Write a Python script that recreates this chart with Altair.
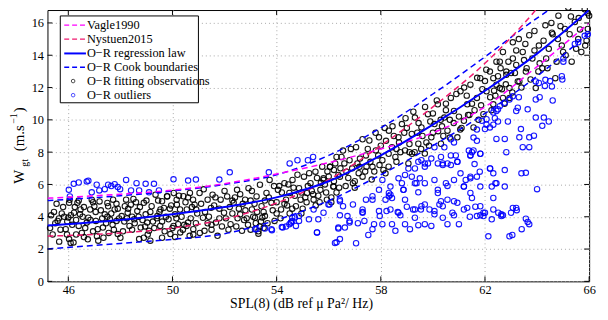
import altair as alt
import pandas as pd

# ---------------- data ----------------
X_TICKS = [46, 50, 54, 58, 62, 66]
Y_TICKS = [0, 2, 4, 6, 8, 10, 12, 14, 16]

# curves (SPL, wind speed)
REG_X = [45.2, 48, 50, 52, 54, 56, 58, 60, 62, 64, 66]
REG_Y = [3.46, 3.8, 4.15, 4.6, 5.2, 6.2, 7.8, 9.7, 11.8, 14.1, 16.8]
COOK_UP_X = [45.2, 48, 50, 52, 54, 56, 58, 60, 62, 64, 65.2]
COOK_UP_Y = [5.0, 5.3, 5.6, 6.0, 6.6, 7.8, 9.5, 11.6, 13.9, 16.3, 17.6]
COOK_LO_X = [45.2, 48, 50, 52, 54, 56, 58, 60, 62, 64, 66]
COOK_LO_Y = [2.0, 2.35, 2.6, 2.95, 3.8, 5.0, 6.6, 8.4, 10.4, 12.7, 15.4]
VAGLE_X = [45.2, 48, 50, 52, 54, 56, 58, 60, 62, 64, 66]
VAGLE_Y = [5.15, 5.4, 5.65, 6.05, 6.65, 7.35, 8.2, 9.2, 10.8, 13.3, 16.0]
NYST_X = [45.2, 48, 50, 52, 54, 56, 58, 60, 62, 63, 64, 64.5]
NYST_Y = [2.8, 3.0, 3.3, 3.85, 4.85, 6.3, 8.4, 10.8, 13.5, 15.1, 16.9, 17.9]

# fitting observations (SPL, W)
FIT_A = [(45.34,4.09),(45.59,3.74),(45.64,3.9),(45.84,4.0),(45.65,2.46),(46.03,2.62),(46.09,2.38),(46.2,2.4),
         (45.9,3.23),(45.96,3.7),(46.1,4.1),(46.22,4.25),(46.03,4.86),(46.35,4.86),(46.47,4.45),(46.4,3.43),
         (46.52,3.0),(46.6,2.74),(46.71,3.64),(46.77,3.94),(46.84,4.45),(46.9,5.06),(47.0,4.65),(47.06,3.74),
         (47.13,3.23),(47.15,2.52),(47.33,3.33),(47.4,4.15),(47.53,4.65),(47.6,3.84),(47.72,5.06),(47.78,4.45),
         (47.85,3.74),(47.9,2.93),(48.05,4.04),(48.17,4.65),(48.22,5.06),(48.28,4.25),(48.35,3.43),(48.4,4.75),
         (48.53,3.84),(48.65,4.35),(48.72,2.62),(48.78,3.33),(48.9,4.86),(48.97,4.15),(49.03,3.64),(49.1,3.13),
         (49.15,2.52),(49.2,4.65),(49.35,5.37),(49.42,4.04),(49.53,3.43),(49.6,4.96),(49.67,4.55),(49.8,5.27),
         (49.85,3.84),(49.92,2.93),(50.05,5.47),(50.1,4.15),(50.17,4.75),(50.22,3.54),(50.3,3.03),(50.42,5.27),
         (50.55,4.45),(50.6,3.64),(50.67,5.47),(50.8,3.23),(50.85,4.75),(45.45,4.3),(45.8,4.6),(46.15,3.5),
         (46.55,4.0),(46.95,3.1),(47.25,4.4),(47.45,3.6),(47.65,4.2),(47.95,3.9),(48.1,3.1),(48.45,4.0),
         (48.6,4.9),(48.85,3.8),(49.25,3.7),(49.5,4.3),(49.75,4.0),(50.0,3.3),(50.35,4.0),(50.5,4.9),
         (50.7,3.9),(50.95,4.2),(49.05,2.9),(47.55,3.0),(46.3,3.8),
         (45.5,3.6),(45.75,4.2),(46.0,3.95),(46.25,4.6),(46.45,4.15),(46.65,3.3),(46.85,3.8),(47.05,4.3),
         (47.3,3.9),(47.5,4.85),(47.7,3.5),(47.9,4.5),(48.15,3.7),(48.3,4.5),(48.55,3.6),(48.75,4.6),
         (48.95,3.4),(49.15,4.3),(49.4,3.9),(49.6,3.7),(49.9,4.5),(50.15,3.9),(50.45,3.5),(50.75,4.6),
         (45.3,3.3),(45.4,2.9),(45.55,4.8),(45.7,3.2),(45.95,2.9),(46.05,5.05),(46.3,2.9),(46.4,5.0),
         (46.6,4.6),(46.75,2.6),(46.95,4.9),(47.1,2.8),(47.2,4.95),(47.35,2.7),(47.5,4.0),(47.75,3.2),
         (47.85,4.8),(48.0,2.7),(48.25,3.9),(48.45,3.2),(48.5,5.1),(48.7,4.0),(48.9,2.7),(49.0,5.0),
         (49.3,3.3),(49.45,5.0),(49.6,2.7),(49.7,3.1),(49.95,4.7),(50.1,2.75),(50.25,5.3),(50.4,3.2),
         (50.6,5.2),(50.8,2.9),(50.9,3.6)]
FIT_B = [(49.54,4.45),(49.79,5.26),(50.04,3.43),(50.16,5.06),(50.29,4.45),(50.54,3.43),(50.66,2.82),(50.79,5.06),
         (50.91,4.45),(51.04,5.47),(51.17,3.94),(51.23,3.13),(51.35,5.06),(51.48,4.55),(51.54,5.37),(51.67,3.64),
         (51.73,2.82),(51.85,5.06),(51.98,4.25),(52.1,5.26),(52.23,3.54),(52.35,4.86),(52.48,5.67),(52.6,4.15),
         (52.67,3.13),(52.79,5.06),(52.92,5.77),(53.05,4.45),(53.17,3.94),(53.23,5.26),(53.36,5.98),(53.42,4.65),
         (53.55,4.04),(53.61,5.47),(53.73,6.28),(53.8,4.86),(53.92,3.74),(54.05,5.67),(54.17,4.45),(54.3,6.08),
         (54.36,5.06),(54.49,5.47),(54.61,6.28),(54.74,4.65),(54.86,5.77),(54.92,5.06),(55.05,6.48),(55.17,5.47),
         (55.3,6.08),(55.42,5.06),(55.49,6.79),(55.68,5.67),(55.8,6.38),(55.93,5.06),(56.05,7.09),(56.18,5.87),
         (56.37,6.59),(56.49,7.7),(53.3,3.1),(53.35,3.4),(53.4,3.7),(53.2,3.6),(53.5,3.3),(53.0,3.2),(52.9,3.5),
         (53.45,3.95),(53.1,4.0),(51.1,4.8),(51.4,4.0),(51.6,4.7),(51.9,3.4),(52.2,4.6),(52.4,5.2),(52.5,3.9),
         (52.8,4.4),(53.0,5.0),(53.7,5.2),(54.0,4.9),(54.2,5.5),(54.5,4.2),(54.7,5.3),(55.0,4.5),(55.2,5.9),
         (55.5,4.7),(55.7,6.1),(55.9,5.5),(56.1,5.2),(56.3,5.5),(56.2,6.2),
         (51.25,4.3),(51.5,3.5),(51.8,4.5),(52.05,3.9),(52.3,5.0),(52.55,4.5),(52.75,3.8),(53.15,4.8),
         (53.5,4.3),(53.85,4.4),(54.1,5.9),(54.4,4.7),(54.65,5.8),(54.95,5.5),(55.15,4.9),(55.35,5.6),
         (55.6,5.3),(55.85,6.0),(56.0,6.5),
         (51.05,3.0),(51.2,5.7),(51.35,3.6),(51.5,3.2),(51.65,5.2),(51.8,3.9),(52.0,5.6),(52.15,3.2),
         (52.3,4.2),(52.45,3.4),(52.6,5.4),(52.7,4.8),(52.85,3.9),(53.05,5.6),(53.25,4.3),(53.3,2.95),
         (53.55,5.0),(53.65,3.6),(53.9,5.9),(54.0,4.2),(54.15,3.9),(54.3,4.8),(54.45,6.0),(54.6,4.5),
         (54.8,6.6),(54.95,4.2),(55.1,5.2),(55.25,6.7),(55.4,5.4),(55.55,6.4),(55.65,4.9),(55.75,7.1),
         (55.95,6.8),(56.1,4.9)]
FIT_C = [(55.8,6.28),(56.05,7.09),(56.18,5.87),(56.3,7.7),(56.43,6.48),(56.55,8.1),(56.68,6.79),(56.8,7.5),
         (56.93,6.08),(57.05,8.31),(57.18,7.09),(57.3,6.48),(57.43,7.8),(57.56,8.72),(57.68,7.09),(57.81,8.11),
         (57.93,8.92),(58.06,7.5),(58.18,6.69),(58.31,9.33),(58.43,8.31),(58.56,7.7),(58.68,8.92),(58.81,9.74),
         (58.93,8.11),(59.06,7.3),(59.19,9.13),(59.31,10.14),(59.44,8.52),(59.56,9.53),(59.69,7.91),(59.81,10.35),
         (59.94,8.92),(60.06,9.74),(60.19,10.96),(60.31,8.52),(60.44,10.14),(60.56,9.33),(60.69,11.36),(60.81,10.55),
         (60.94,8.92),(61.06,11.77),(61.19,9.94),(61.32,10.96),(61.44,12.18),(61.56,9.53),(61.69,11.36),(61.82,12.58),
         (61.94,10.35),(62.06,11.77),(62.19,12.99),(62.32,10.96),(62.44,12.18),(62.57,13.6),(62.69,11.36),(62.82,12.79),
         (62.94,11.97),(63.07,13.8),(63.26,12.38),(56.2,6.9),(56.6,7.3),(56.9,7.0),(57.2,7.6),(57.4,6.8),(57.6,7.4),
         (57.9,7.8),(58.0,8.4),(58.3,7.9),(58.5,9.0),(58.7,8.6),(59.0,9.5),(59.3,8.0),(59.6,9.0),(59.9,9.9),
         (60.2,9.3),(60.5,10.6),(60.8,9.8),(61.0,10.2),(61.3,11.5),(61.6,10.6),(61.9,11.9),(62.2,11.4),(62.5,12.7),
         (62.8,12.2),(57.0,6.2),(56.4,5.8),(58.1,6.9),(59.2,7.9),(60.3,10.0),
         (56.75,6.4),(57.1,7.3),(57.5,8.2),(57.75,6.8),(58.2,8.7),(58.6,8.2),(58.9,9.2),(59.1,8.5),
         (59.45,9.8),(59.75,8.6),(60.0,10.4),(60.4,9.0),(60.65,10.0),(61.1,9.5),(61.4,10.3),(61.75,10.0),
         (62.0,12.4),(62.35,11.8),(62.65,11.9),(63.0,12.9),
         (56.25,7.3),(56.45,7.0),(56.65,5.9),(56.85,8.2),(57.0,5.8),(57.15,6.7),(57.3,8.8),(57.45,7.1),
         (57.65,6.3),(57.8,9.2),(57.95,7.2),(58.15,9.5),(58.3,7.1),(58.45,9.6),(58.6,7.4),(58.75,8.0),
         (58.95,10.1),(59.1,8.0),(59.25,10.5),(59.4,9.2),(59.55,8.2),(59.7,10.8),(59.85,8.4),(60.0,9.2),
         (60.15,11.2),(60.35,9.6),(60.5,11.0),(60.65,8.9),(60.9,11.6),(61.05,9.4),(61.2,12.0),(61.35,10.3),
         (61.5,11.0),(61.7,12.6),(61.85,10.9),(62.05,13.1),(62.25,10.6),(62.4,11.5)]
FIT_D = [(62.32,12.58),(62.44,13.6),(62.57,11.97),(62.69,14.2),(62.82,12.99),(62.94,11.36),(63.07,14.8),(63.2,13.4),
         (63.32,12.38),(63.45,14.2),(63.57,12.99),(63.7,15.24),(63.82,13.8),(63.95,11.97),(64.07,14.6),(64.2,13.19),
         (64.32,15.85),(64.45,14.4),(64.57,15.4),(64.7,12.58),(64.82,16.45),(64.95,14.6),(65.07,15.63),(65.2,16.95),
         (65.33,13.6),(65.45,16.06),(65.58,15.0),(65.7,14.2),(65.83,16.85),(65.95,15.63),(66.0,16.45),(64.1,13.5),
         (64.6,15.3),(65.0,14.2),(63.6,13.2),(63.3,15.0),
         (63.15,12.9),(63.5,13.7),(63.9,14.3),(64.35,13.8),(64.8,15.0),(65.25,15.3),(65.6,16.3),(65.9,14.9),
         (62.6,13.2),(62.75,11.0),(62.9,13.6),(63.05,11.7),(63.2,14.3),(63.4,12.0),(63.55,14.7),(63.75,12.5),
         (63.9,15.5),(64.05,13.0),(64.25,14.9),(64.4,13.2),(64.55,16.0),(64.75,13.6),(64.9,15.8),(65.1,14.0),
         (65.3,16.4),(65.5,14.4),(65.65,15.6),(65.85,14.6),(65.95,16.6)]

# outliers (SPL, W)
OUT_UP = [(46.02,5.67),(46.06,5.26),(46.21,6.04),(46.4,6.12),(46.71,6.18),(46.77,6.23),(46.9,5.51),(47.09,5.98),
          (47.19,5.63),(47.4,5.71),(47.53,5.98),(47.65,5.9),(47.78,6.02),(47.9,5.84),(47.99,5.71),(48.22,6.28),
          (48.41,5.63),(48.62,6.08),(48.72,5.63),(48.97,6.04),(49.1,5.51),(49.29,6.04),(49.48,5.63),(50.04,6.32),
          (50.6,6.24),(50.9,6.3),(51.8,6.3),(52.2,6.75),(53.7,6.75),(54.5,7.3),(54.8,7.5),(55.2,7.5),(55.4,7.7)]
OUT_LOW = [(53.23,3.23),(53.55,3.27),(53.82,3.17),(54.2,3.37),(54.36,3.39),(54.55,3.64),(54.6,3.94),(54.86,3.74),
           (55.24,3.84),(55.55,3.03),(55.6,3.84),(56.03,4.76),(56.24,2.38),(56.37,3.27),(56.43,4.09),(56.62,3.33),
           (56.72,4.04),(56.8,3.64),(57.05,2.36),(57.12,3.6),(57.3,4.29),(57.37,3.74),(57.52,2.87),(57.68,3.23),
           (57.74,3.54),(57.96,4.04),(58.06,3.54),(58.22,4.35),(58.43,3.54),(58.56,3.13),(58.65,4.29),(58.75,4.09),
           (58.93,3.54),(59.0,4.62),(59.12,3.23),(59.31,3.94),(59.44,3.48),(59.54,4.45),(59.69,3.54),(59.94,3.43),
           (60.06,4.15),(60.25,4.76),(60.38,3.94),(60.56,3.54),(60.81,4.09),(61.0,3.54),(61.19,4.45),(61.42,4.0),
           (61.63,4.62),(61.82,4.09),(61.94,4.04),(62.13,2.79),(62.26,3.84),(62.51,4.25),(62.69,4.09),(62.94,2.79),
           (63.05,2.87),(63.22,4.41),(63.41,3.23),(63.57,3.88),(63.7,3.54),
           (63.4,6.69),(63.57,6.72),(64.0,5.71),(63.64,3.68),(62.4,6.08),(62.2,6.99),(61.8,6.79),(61.6,7.26),
           (60.94,7.4),(61.19,5.87),(61.44,5.47),(61.5,5.16),(60.81,4.96),(60.19,5.47),(60.56,5.91),(60.06,6.28),
           (59.44,5.51),(59.31,6.08),(58.93,6.59),(58.68,6.38),(58.37,5.37),(58.87,5.67),(58.37,4.45),(57.93,4.35),
           (59.24,4.45),(59.56,4.65),(59.87,4.45),(60.31,4.96),(60.38,4.65),(60.75,4.25),(61.82,4.65),(62.0,4.25),
           (62.32,4.45),(62.63,4.04),(60.19,7.3),(60.69,7.2),(61.26,6.28),(61.44,6.48),(59.69,7.1),(59.31,6.99),
           (60.38,7.3),
           (64.95,12.7),(64.97,12.5),(64.5,12.4),(64.3,12.1),(64.6,11.2),(63.3,11.4),(63.26,10.75),(63.95,11.26),
           (64.1,11.4),(63.64,10.65),(63.95,10.14),(64.26,10.14),(64.45,9.9),(64.2,9.63),(63.38,9.43),(63.32,8.92),
           (63.7,8.92),(63.88,9.02),(63.45,8.31),(63.7,8.31),(62.82,8.0),(62.44,8.82),(62.76,8.82),(62.19,9.53),
           (62.0,9.43),(61.88,9.94),(62.06,10.04),(62.44,10.55),(63.2,10.55),(62.32,10.45),(62.5,10.65),(62.57,10.85),
           (62.76,11.06),(62.94,11.26),(63.07,11.46),(63.95,12.38),(64.07,12.28),(64.32,12.48),(64.57,12.07),
           (65.01,13.8),(65.01,13.6),(65.45,14.7),(65.58,14.8),(65.83,15.2),(65.95,15.3),(61.5,8.0),(61.44,7.8),
           (61.82,7.9),(61.38,8.1),(60.88,7.8),(60.69,7.8),(60.38,7.2),(60.56,7.3),(60.94,7.4),(60.31,7.7),
           (59.94,7.6),(59.69,7.3),(59.44,7.4),(60.06,8.3),(60.44,8.3),(60.81,8.6),(60.69,8.8),(61.69,9.4),
           (62.06,9.7),(61.56,8.9),(61.69,8.7),(62.38,10.1),(62.5,9.9),(62.88,9.9),(62.32,9.7),
           (56.43,5.06),(56.93,4.76),(57.43,5.06),(57.3,4.25),(57.68,5.27),(58.31,5.27),(58.37,5.87),(58.81,6.08),
           (59.19,6.48),(59.5,6.38),(59.69,6.08),(59.06,6.99),(59.56,7.5),(59.81,7.3),(60.19,5.67),(60.5,6.08),
           (60.81,6.28),(61.06,6.69),(61.19,5.87),(61.44,6.38),(61.69,6.48),(61.82,5.87),(62.26,5.87),(62.32,5.16),
           (62.63,4.15),(63.0,4.25),(63.2,4.55),(60.56,5.06),(60.94,4.86),(61.32,4.55),(61.69,4.04),(61.94,4.25),
           (58.93,5.06),(59.31,4.45),(59.69,4.76),(60.06,4.35),(56.8,3.74),(58.68,4.25),(58.18,5.06),(57.93,5.67),
           (61.56,8.11),(61.82,7.9),(61.44,7.8),(62.19,6.99),(62.32,6.69),(62.44,6.08),(62.76,5.87),(62.76,6.89),
           (63.07,4.55),(54.55,3.64),(54.7,3.96),(56.43,4.96),(56.55,4.65),(57.3,4.45),(58.31,5.47),(58.43,5.16),
           (57.68,5.06),(58.06,6.28),(58.87,5.67),(59.37,6.08),(53.17,3.23),(53.8,3.23),(54.23,3.33),(54.49,3.54),
           (54.6,3.74),(54.74,3.43),(54.86,4.04),(55.42,4.45),(55.55,3.03),(55.8,4.25),(55.99,4.76),(56.3,2.42),
           (56.43,2.62),(56.37,3.33)]

LEGEND = [("Vagle1990", "#ff00ff", "dash"), ("Nystuen2015", "#f0196e", "dash"),
          ("O\u2212R regression law", "#0000ff", "solid"), ("O\u2212R Cook boundaries", "#0000ff", "dash"),
          ("O\u2212R fitting observations", "black", "circle"), ("O\u2212R outliers", "#0000ff", "circle")]

# ---------------- chart ----------------
W, H = 549, 275
SERIF = "Liberation Serif, Times New Roman, DejaVu Serif, serif"
xs = alt.Scale(domain=[45.2, 66], nice=False, zero=False)
ys = alt.Scale(domain=[0, 16.8], nice=False, zero=False)

fit = pd.DataFrame(FIT_A + FIT_B + FIT_C + FIT_D, columns=["spl", "w"])
out = pd.DataFrame(OUT_UP + OUT_LOW, columns=["spl", "w"])

xaxis = alt.Axis(values=X_TICKS, grid=True, gridColor="#a8a8a8", gridDash=[1, 3], gridWidth=1,
                 ticks=False, domain=False, labelFont=SERIF, labelFontSize=12.5, labelColor="black",
                 labelPadding=2, labelFlush=False, title="SPL(8) (dB ref \u03bc Pa\u00b2/ Hz)", titleFont=SERIF,
                 titleFontSize=14, titleFontWeight="normal", titleColor="black",
                 titleX=257, titleY=26, titleBaseline="alphabetic", titleAnchor="middle")
yaxis = alt.Axis(values=Y_TICKS, grid=True, gridColor="#a8a8a8", gridDash=[1, 3], gridWidth=1,
                 ticks=False, domain=False, labelFont=SERIF, labelFontSize=12.5, labelColor="black",
                 labelPadding=4, labelFlush=False, title="")


def X(field="spl"):
    return alt.X(f"{field}:Q", scale=xs, axis=xaxis)


def Y(field="w"):
    return alt.Y(f"{field}:Q", scale=ys, axis=yaxis)


pts_fit = alt.Chart(fit).mark_point(shape="circle", filled=False, size=30, strokeWidth=1.1,
                                    color="black", opacity=0.9).encode(x=X(), y=Y())
pts_out = alt.Chart(out).mark_point(shape="circle", filled=False, size=30, strokeWidth=1.1,
                                    color="#0000ff", opacity=0.9).encode(x=X(), y=Y())


def curve(xv, yv, color, dash, width):
    df = pd.DataFrame({"spl": xv, "w": yv})
    kw = dict(color=color, strokeWidth=width, clip=True, interpolate="monotone")
    if dash:
        kw["strokeDash"] = [6, 4]
    return alt.Chart(df).mark_line(**kw).encode(x=X(), y=Y())


lines = [
    curve(COOK_UP_X, COOK_UP_Y, "#0000ff", True, 1.5),
    curve(COOK_LO_X, COOK_LO_Y, "#0000ff", True, 1.5),
    curve(VAGLE_X, VAGLE_Y, "#ff00ff", True, 1.5),
    curve(NYST_X, NYST_Y, "#f0196e", True, 1.5),
    curve(REG_X, REG_Y, "#0000ff", False, 2),
]

xt = pd.DataFrame({"spl": X_TICKS})
yt = pd.DataFrame({"w": Y_TICKS})
ticks = [
    alt.Chart(xt).mark_rule(color="black").encode(x=X(), y=alt.value(H), y2=alt.value(H - 5)),
    alt.Chart(xt).mark_rule(color="black").encode(x=X(), y=alt.value(0), y2=alt.value(5)),
    alt.Chart(yt).mark_rule(color="black").encode(y=Y(), x=alt.value(0), x2=alt.value(5)),
    alt.Chart(yt).mark_rule(color="black").encode(y=Y(), x=alt.value(W), x2=alt.value(W - 5)),
]

one = pd.DataFrame({"k": [0]})
legend = [alt.Chart(one).mark_rect(fill="white", stroke="black", strokeWidth=1).encode(
    x=alt.value(13), x2=alt.value(153), y=alt.value(6), y2=alt.value(94))]
row_y = [15.3, 29.5, 44, 58, 72, 86.3]
for (label, color, kind), ry in zip(LEGEND, row_y):
    if kind == "circle":
        legend.append(alt.Chart(one).mark_point(shape="circle", filled=False, size=13, strokeWidth=1,
                                                color=color).encode(x=alt.value(26), y=alt.value(ry)))
    else:
        kw = dict(color=color, strokeWidth=2 if kind == "solid" else 1.5)
        if kind == "dash":
            kw["strokeDash"] = [5, 3]
        legend.append(alt.Chart(one).mark_rule(**kw).encode(
            x=alt.value(17), x2=alt.value(39), y=alt.value(ry)))
    legend.append(alt.Chart(one).mark_text(align="left", baseline="middle", font=SERIF, fontSize=12.5,
                                           color="black").encode(
        x=alt.value(40), y=alt.value(ry), text=alt.value(label)))

# y-axis title  W_gt (m.s^-1), rotated
YT = [("W", -29, 169, 15), ("gt", -23, 155, 10), ("(m.s", -29, 130, 15),
      ("\u22121", -33.5, 110, 10), (")", -29, 101, 15)]
ytitle = [alt.Chart(one).mark_text(angle=270, align="center", baseline="middle", font=SERIF,
                                   fontSize=fs, color="black").encode(
    x=alt.value(px), y=alt.value(py), text=alt.value(t)) for t, px, py, fs in YT]

chart = alt.layer(pts_fit, pts_out, *lines, *ticks, *legend, *ytitle).properties(
    width=W, height=H, autosize=alt.AutoSizeParams(type="none"),
    padding={"left": 40, "top": 0, "right": 11, "bottom": 29}
).configure_view(stroke="black", strokeWidth=1)

chart.save("out.html", embed_options={"renderer": "svg", "actions": False})
